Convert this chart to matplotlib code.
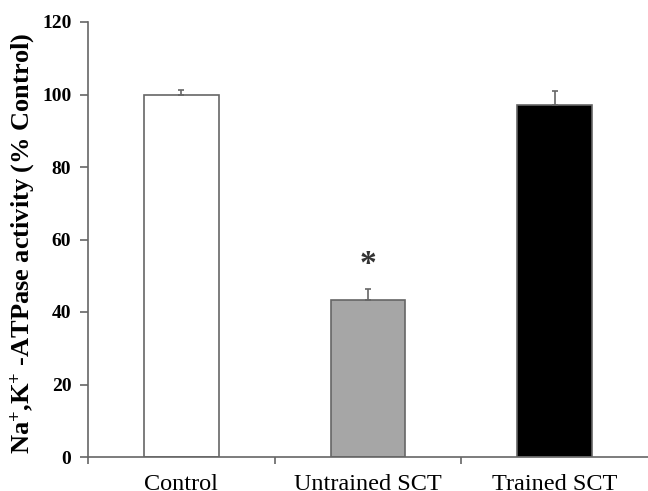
import matplotlib
matplotlib.use("Agg")
import matplotlib.pyplot as plt

plt.rcParams['font.family'] = ['Liberation Serif', 'DejaVu Serif']
plt.rcParams['mathtext.fontset'] = 'custom'
plt.rcParams['mathtext.rm'] = 'Liberation Serif:bold'
plt.rcParams['mathtext.bf'] = 'Liberation Serif:bold'
plt.rcParams['mathtext.it'] = 'Liberation Serif:bold'

categories = ["Control", "Untrained SCT", "Trained SCT"]
values = [100, 43.3, 97.2]
errors = [1.3, 3.0, 3.8]
colors = ["white", "#a6a6a6", "black"]
yticks = [0, 20, 40, 60, 80, 100, 120]
star_value = 53

fig = plt.figure(figsize=(6.48, 4.91), dpi=100)
ax = fig.add_axes([88/648, 34/491, 1 - 88/648, 435/491])

x = list(range(len(categories)))
edge = "#666666"
ax.bar(x, values, width=0.4, color=colors, edgecolor=edge, linewidth=1.2, zorder=2)
ax.errorbar(x, values, yerr=[[0]*len(errors), errors], fmt='none', ecolor=edge,
            elinewidth=1.2, capsize=2.2, capthick=1.2, zorder=3)
ax.text(1, star_value, "*", ha='center', va='center', fontsize=24, color='#333333',
        fontweight='bold')

ax.set_xlim(-0.5, 2.5)
ax.set_ylim(0, 120)
ax.set_yticks(yticks)
ax.set_yticklabels([str(t) for t in yticks], fontweight='bold', fontsize=14)
ax.set_xticks(x)
ax.set_xticklabels(categories, fontsize=17.5)
ax.tick_params(axis='x', length=0, pad=12)
ax.set_xticks([-0.5, 0.5, 1.5], minor=True)
ax.tick_params(axis='x', which='minor', length=5, color=edge, width=1.2)
ax.tick_params(axis='y', length=6, color=edge, width=1.2, pad=6)

for s in ['top', 'right']:
    ax.spines[s].set_visible(False)
for s in ['left', 'bottom']:
    ax.spines[s].set_color(edge)
    ax.spines[s].set_linewidth(1.2)

ax.set_ylabel(r"Na$^{+}$,K$^{+}$ -ATPase activity (% Control)", fontsize=19,
              fontweight='bold')
ax.yaxis.set_label_coords(-0.091, 0.49)

fig.savefig("out.png", dpi=100)
